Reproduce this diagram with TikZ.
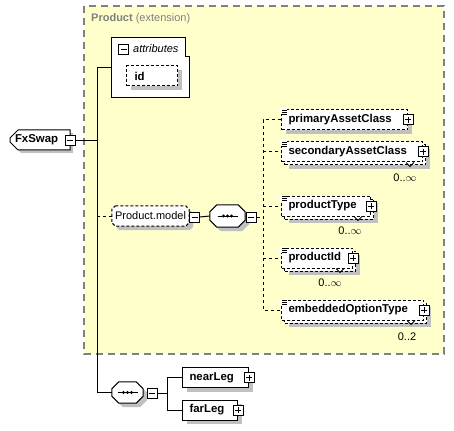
\documentclass[tikz,border=0pt]{standalone}
\usepackage{fontspec}
\setmainfont{Liberation Sans}
\usetikzlibrary{shapes.misc,shadows}
\definecolor{bgyellow}{HTML}{FFFFCC}
\definecolor{shadowgray}{HTML}{C0C0C0}
\definecolor{titlegray}{HTML}{808080}
\newcommand\dfs{\fontsize{11.4}{13}\selectfont}
\newcommand\rfs{\fontsize{11}{13}\selectfont}
\pgfdeclarelayer{back}
\pgfdeclarelayer{mid}
\pgfsetlayers{back,mid,main}
\tikzset{
  shadowed/.style={drop shadow={shadow xshift=4pt, shadow yshift=-4pt, fill=shadowgray, opacity=1}},
  elembase/.style={rectangle, draw, fill=white, line width=1pt, font=\dfs\bfseries,
     minimum height=20pt, inner xsep=7pt, inner ysep=0pt, align=left, anchor=west},
  elem/.style={elembase, shadowed},
  optelem/.style={elembase, dash pattern=on 3pt off 2pt, shadowed},
  multielem/.style={elembase, dash pattern=on 3pt off 2pt,
     drop shadow={shadow xshift=7pt, shadow yshift=-7pt, fill=shadowgray, opacity=1},
     copy shadow={shadow xshift=3pt, shadow yshift=-3pt, fill=white, draw=black, line width=1pt, dash pattern=on 3pt off 2pt}},
  pmbox/.style={rectangle, draw, fill=white, line width=1pt, minimum size=10pt, inner sep=0pt},
  plusbox/.style={pmbox, path picture={\draw[line width=1pt]
     ([xshift=2pt]path picture bounding box.west) -- ([xshift=-2pt]path picture bounding box.east)
     ([yshift=2pt]path picture bounding box.south) -- ([yshift=-2pt]path picture bounding box.north);}},
  minusbox/.style={pmbox, path picture={\draw[line width=1pt]
     ([xshift=2pt]path picture bounding box.west) -- ([xshift=-2pt]path picture bounding box.east);}},
  holder/.style={rectangle, draw=none, inner sep=0pt},
  octpath/.style={draw, fill=white, line width=1pt, shadowed},
  rootbox/.style={chamfered rectangle, chamfered rectangle corners={north west,south west},
     chamfered rectangle xsep=4pt, chamfered rectangle ysep=4pt, draw, fill=white, line width=1pt,
     minimum width=60pt, minimum height=20pt, inner xsep=0pt, inner ysep=0pt, text width=50pt, align=left,
     font=\dfs\bfseries, drop shadow={shadow xshift=3pt, shadow yshift=-3pt, fill=shadowgray, opacity=1}},
  conn/.style={line width=1pt},
  dconn/.style={line width=1pt, dash pattern=on 3pt off 3pt},
  mult/.style={font=\rfs, inner sep=0pt},
  notch/.style={line width=0.8pt},
}
\newcommand\octo[2]{% node, chamfer
  ([xshift=#2]#1.north west) -- ([xshift=-#2]#1.north east) -- ([yshift=-#2]#1.north east)
  -- ([yshift=#2]#1.south east) -- ([xshift=-#2]#1.south east) -- ([xshift=#2]#1.south west)
  -- ([yshift=#2]#1.south west) -- ([yshift=-#2]#1.north west) -- cycle}
\newcommand\seqdots[1]{%
  \draw[line width=1pt] ([xshift=-10pt]#1.center) -- ([xshift=10pt]#1.center);
  \foreach \d in {-4,0,4} \fill ([xshift=\d pt]#1.center) circle (1.7pt);}
\newcommand\simpleicon[1]{%
  \fill[white] ([xshift=-1pt,yshift=1pt]#1.north west) rectangle ++(7,6);
  \draw[line width=0.8pt] ([xshift=1pt,yshift=-1pt]#1.north west) -- ++(5,0)
     ([xshift=1pt,yshift=-3pt]#1.north west) -- ++(5,0)
     ([xshift=1pt,yshift=-5pt]#1.north west) -- ++(5,0);}
\newcommand\multinotch[1]{%
  \draw[notch] ([xshift=-17pt]#1.south east) -- ++(4,4) -- ++(4,-4);}
\begin{document}
\begin{tikzpicture}[x=1pt,y=-1pt]
\useasboundingbox (0,0) rectangle (454,430);
% extension background
\begin{pgfonlayer}{back}
\draw[titlegray, line width=1.2pt, dash pattern=on 7pt off 5pt, fill=bgyellow] (84,6) rectangle (444,354);
\end{pgfonlayer}
\node[anchor=west, inner sep=0pt, text=titlegray, font=\rfs] (title) at (91,19) {\textbf{Product} (extension)};
% attributes
\node[holder, minimum width=77pt, minimum height=59pt] (attr) at (150.5,67.5) {};
\draw[line width=1pt, fill=white] (attr.north west) -- ([xshift=-4pt]attr.north east) -- ([xshift=-4pt,yshift=-19pt]attr.north east)
   -- ([yshift=-19pt]attr.north east) -- (attr.south east) -- (attr.south west) -- cycle;
\node[minusbox] (attrm) at (123.5,49.5) {};
\node[anchor=west, inner sep=0pt, font=\rfs\itshape] (attrl) at (133,49) {attributes};
\node[optelem, inner xsep=8pt, text width=35pt] (id) at (126,76) {id};
% root
\node[rootbox] (fx) at (40,140) {FxSwap};
\node[minusbox] (fxm) at (70,141) {};
% Product.model group
\node[holder, minimum width=77pt, minimum height=20pt, font=\rfs] (pm) at (150.5,216) {Product.model};
\begin{pgfonlayer}{mid}
\path[octpath, dash pattern=on 3pt off 2pt] \octo{pm}{3.5pt};
\end{pgfonlayer}
\node[minusbox] (pmm) at (194.5,217) {};
\node[holder, minimum width=35pt, minimum height=22pt] (seq1) at (227.5,216) {};
\path[octpath] \octo{seq1}{7pt};
\seqdots{seq1}
\node[minusbox] (seq1m) at (251,217) {};
% right-hand elements
\node[optelem, text width=112pt] (pac) at (281,120) {primaryAssetClass};
\node[plusbox] (pacp) at (pac.east) {};
\node[multielem, text width=127pt] (sac) at (281,152) {secondaryAssetClass};
\node[plusbox] (sacp) at (sac.east) {};
\node[multielem, text width=75pt] (pt) at (281,206) {productType};
\node[plusbox] (ptp) at (pt.east) {};
\node[multielem, text width=57pt] (pid) at (281,258) {productId};
\node[plusbox] (pidp) at (pid.east) {};
\node[multielem, text width=128pt] (eot) at (281,310) {embeddedOptionType};
\node[plusbox] (eotp) at (eot.east) {};
\simpleicon{pac}\simpleicon{sac}\simpleicon{pt}\simpleicon{pid}\simpleicon{eot}
\multinotch{sac}\multinotch{pt}\multinotch{pid}\multinotch{eot}
\node[mult] (sacn) at (405,178) {0..\(\infty\)};
\node[mult] (ptn) at (350,231) {0..\(\infty\)};
\node[mult] (pidn) at (330,283) {0..\(\infty\)};
\node[mult] (eotn) at (407,337) {0..2};
% bottom sequence
\node[holder, minimum width=31pt, minimum height=21pt] (seq2) at (127.5,392.5) {};
\path[octpath] \octo{seq2}{7pt};
\seqdots{seq2}
\node[minusbox] (seq2m) at (152,393) {};
\node[elem, text width=52pt] (near) at (182,377.5) {nearLeg};
\node[plusbox] (nearp) at (near.east) {};
\node[elem, text width=41pt] (far) at (182,410) {farLeg};
\node[plusbox] (farp) at (far.east) {};
% connectors
\coordinate (tk) at (97,0);
\coordinate (rk) at (263,0);
\coordinate (bk) at (167,0);
\draw[conn] (fxm.east) -- (tk |- fxm.east);
\draw[conn] (attr.west) -| (tk |- seq2.west) -- (seq2.west);
\draw[dconn] (tk |- pm.west) -- (pm.west);
\draw[conn] (pmm.east) -- (seq1.west);
\draw[dconn] (seq1m.east) -- (rk |- seq1m.east);
\draw[dconn] (pac.west) -| (rk |- eot.west) -- (eot.west);
\draw[dconn] (rk |- sac.west) -- (sac.west);
\draw[dconn] (rk |- pt.west) -- (pt.west);
\draw[dconn] (rk |- pid.west) -- (pid.west);
\draw[conn] (seq2m.east) -- (bk |- seq2m.east);
\draw[conn] (near.west) -| (bk |- far.west) -- (far.west);
\end{tikzpicture}
\end{document}
